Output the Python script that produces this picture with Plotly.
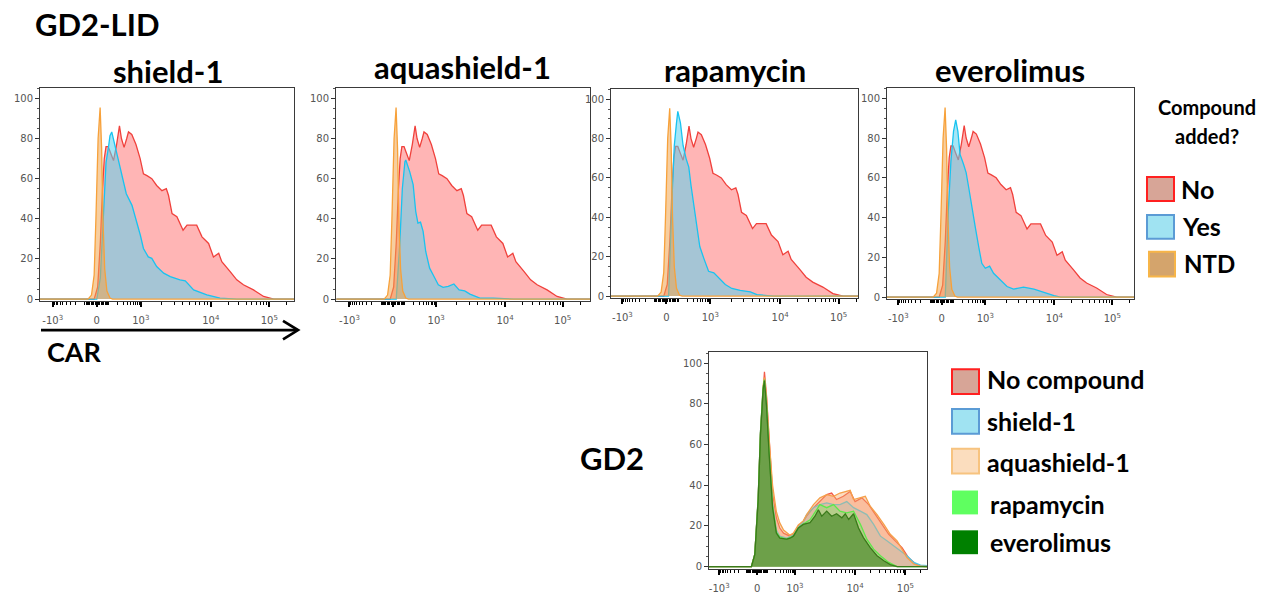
import math
import plotly.graph_objects as go

W, H = 1270, 596
FONT = "Lato, 'Open Sans', sans-serif"

# ---------------- data (x in display channel units: -1=-10^3, 0=0, 1=10^3, 2.59=10^4, 3.92=10^5) -------------
# CAR panels: "No compound" control (same sample in all four panels)
car_no_x = [-1.3, -0.06, 0.02, 0.08, 0.13, 0.17, 0.21, 0.26, 0.31, 0.38, 0.45, 0.515, 0.56, 0.62, 0.68, 0.72,
            0.795, 0.89, 0.985, 1.06, 1.14, 1.25, 1.36, 1.48, 1.58, 1.63, 1.71, 1.82, 1.96, 2.05, 2.27, 2.39,
            2.54, 2.65, 2.77, 2.84, 3.03, 3.18, 3.33, 3.56, 3.79, 4.02, 4.6]
car_no_y = [0, 0, 6, 28, 55, 70, 76, 76, 73, 69, 77, 86.3, 80, 75.6, 80, 83.3,
            82, 77, 70, 62.4, 61.5, 60, 56.6, 54, 55, 51.6, 42.6, 41, 34.3, 36.8, 36.8, 31,
            27.7, 21, 22.8, 18.6, 13.7, 9.6, 7.1, 4.6, 1.3, 0, 0]
# NTD (non-transduced) control
car_ntd_x = [-1.3, -0.2, -0.12, -0.06, -0.02, 0.03, 0.076, 0.11, 0.14, 0.18, 0.23, 0.3, 0.36, 4.6]
car_ntd_y = [0, 0, 2, 12, 40, 80, 95.4, 75, 40, 15, 4, 0.5, 0, 0]
# "Yes" (compound added) per panel
yes_shield_x = [-1.3, 0.0, 0.08, 0.15, 0.21, 0.27, 0.30, 0.34, 0.42, 0.53, 0.67, 0.80, 0.91, 0.99, 1.06, 1.17,
                1.25, 1.36, 1.52, 1.67, 1.89, 2.01, 2.2, 2.5, 2.8, 3.18, 4.6]
yes_shield_y = [0, 0, 10.4, 40, 68, 76.4, 81.4, 83.3, 76, 65, 52.5, 46.7, 38.4, 31.8, 25.2, 21,
                20.3, 16.2, 12.9, 11.2, 9.6, 9.1, 4.6, 2.1, 0.5, 0, 0]
yes_aqua_x = [-1.3, 0.08, 0.16, 0.22, 0.28, 0.30, 0.39, 0.47, 0.53, 0.58, 0.64, 0.70, 0.76, 0.85, 0.93, 1.05,
              1.16, 1.28, 1.41, 1.53, 1.66, 1.78, 2.01, 2.32, 2.78, 4.6]
yes_aqua_y = [0, 0, 27, 55, 68.5, 69.3, 63.5, 57, 43.6, 37.8, 38.3, 33.7, 23.7, 15.4, 12.1, 7.1,
              5.8, 6.3, 7.5, 4.6, 4.1, 2.5, 0.5, 0.5, 0, 0]
yes_rapa_x = [-1.3, 0.05, 0.13, 0.18, 0.23, 0.26, 0.32, 0.38, 0.45, 0.51, 0.56, 0.62, 0.70, 0.76, 0.85, 0.96,
              1.08, 1.19, 1.34, 1.49, 1.68, 1.91, 2.06, 2.44, 4.6]
yes_rapa_y = [0, 0, 51, 76.5, 88, 93.8, 88, 76.5, 69.7, 65.5, 56.3, 46.2, 32.8, 25.2, 19.3, 12.6,
              11.8, 9.2, 5.9, 3.9, 2.9, 2.2, 0.8, 0, 0]
yes_evero_x = [-1.3, 0.08, 0.15, 0.21, 0.27, 0.32, 0.37, 0.42, 0.50, 0.56, 0.62, 0.69, 0.77, 0.85, 0.92, 1.0,
               1.1, 1.19, 1.35, 1.5, 1.65, 1.88, 2.12, 2.35, 2.58, 2.73, 4.6]
yes_evero_y = [0, 0, 43.5, 68.4, 83.4, 89.2, 83.4, 71.8, 66.8, 62.6, 55, 45, 35.2, 25.2, 17, 14.5,
               15.6, 12, 8.6, 5.3, 4, 5, 4, 2.3, 0.7, 0, 0]

# GD2 panel
gd2_nocomp_x = [-1.3, -0.15, -0.06, 0.03, 0.09, 0.16, 0.195, 0.25, 0.32, 0.41, 0.51, 0.6, 0.7, 0.87, 0.96, 1.09,
                1.22, 1.31, 1.49, 1.66, 1.84, 1.97, 2.1, 2.28, 2.46, 2.59, 2.77, 2.95, 3.12, 3.3, 3.48, 3.65,
                3.83, 4.0, 4.19, 4.36, 4.6]
gd2_nocomp_y = [0, 0, 6, 34, 66, 90, 95.8, 84, 60, 36, 24, 19, 16.5, 15, 16, 20,
                22, 24.8, 29, 32, 35.4, 36.2, 33, 34.6, 37, 32, 33.8, 30.5, 25.6, 20.8, 15.9, 12.7,
                9.4, 4.5, 1.3, 0.2, 0]
gd2_shield_x = [-1.3, -0.15, -0.06, 0.03, 0.09, 0.16, 0.195, 0.25, 0.32, 0.41, 0.51, 0.6, 0.78, 0.96, 1.09,
                1.22, 1.31, 1.49, 1.66, 1.84, 2.02, 2.19, 2.37, 2.55, 2.73, 2.9, 3.08, 3.26, 3.43, 3.61,
                3.79, 3.96, 4.14, 4.32, 4.5, 4.6]
gd2_shield_y = [0, 0, 6, 34, 66, 88, 92, 80, 56, 31, 18, 15, 14, 15.5, 19.5,
                22, 25.6, 29, 30.5, 31.3, 30.5, 30.5, 32, 29, 27.3, 25.6, 20.8, 15, 12.7, 10.2,
                7.8, 5.4, 2.1, 0.8, 0.5, 0.3]
gd2_aqua_x = [-1.3, -0.15, -0.06, 0.03, 0.09, 0.16, 0.195, 0.25, 0.32, 0.41, 0.51, 0.6, 0.7, 0.87, 0.96, 1.09,
              1.22, 1.31, 1.49, 1.66, 1.84, 2.02, 2.19, 2.37, 2.46, 2.55, 2.73, 2.86, 2.99, 3.17, 3.35, 3.52,
              3.7, 3.83, 3.96, 4.14, 4.32, 4.6]
gd2_aqua_y = [0, 0, 6, 33, 65, 89, 93, 83, 62, 40, 27, 21.5, 18, 15.5, 16.5, 20.5,
              22.5, 25.6, 30.5, 33.8, 35.4, 34.6, 36.2, 37, 37.5, 33, 33.8, 34.6, 29.7, 25.6, 20.8, 15.9,
              12.7, 8.6, 4.5, 1.3, 0.2, 0]
gd2_rapa_x = [-1.3, -0.15, -0.06, 0.03, 0.09, 0.16, 0.195, 0.25, 0.32, 0.41, 0.51, 0.6, 0.78, 0.96, 1.09,
              1.22, 1.4, 1.53, 1.66, 1.84, 2.02, 2.19, 2.37, 2.55, 2.73, 2.9, 3.08, 3.26, 3.48, 3.7, 4.6]
gd2_rapa_y = [0, 0, 6, 34, 66, 88, 92, 80, 56, 30, 17, 14.5, 13.5, 15, 19,
              21, 23, 26.5, 30.5, 29, 30.5, 27.3, 26.5, 27.3, 20.8, 13.5, 8.6, 5.4, 2.1, 0, 0]
gd2_evero_x = [-1.3, -0.15, -0.06, 0.03, 0.09, 0.16, 0.195, 0.25, 0.32, 0.41, 0.51, 0.6, 0.78, 0.87, 0.96, 1.09,
               1.22, 1.4, 1.53, 1.62, 1.71, 1.84, 1.97, 2.1, 2.24, 2.33, 2.42, 2.55, 2.68, 2.81, 2.99, 3.17,
               3.35, 3.52, 3.7, 4.6]
gd2_evero_y = [0, 0, 6, 33, 65, 87, 91.5, 79, 55, 29, 16.5, 14, 13.5, 14, 15, 19,
               20.8, 21.6, 24.8, 28, 24.8, 27.3, 24.8, 26, 24, 26, 23.2, 26, 19, 14.3, 9.4, 5.4,
               2.9, 1, 0, 0]

# axis tick labels
x_tickvals = [-1, 0, 1, 2.59, 3.92]
x_ticktext = ["-10<sup>3</sup>", "0", "10<sup>3</sup>", "10<sup>4</sup>", "10<sup>5</sup>"]
y_tickvals = [0, 20, 40, 60, 80, 100]

panel_titles = ["shield-1", "aquashield-1", "rapamycin", "everolimus"]

# ---------------- styling ----------------
RED_L, RED_F = "#F0413C", "rgba(255,60,60,0.38)"
BLUE_L, BLUE_F = "#19C3F0", "rgba(91,210,239,0.55)"
ORG_L, ORG_F = "#F7A13A", "rgba(240,165,80,0.55)"


def asn(v):
    return math.asinh(v / 100.0) / math.asinh(10.0)


minor_x = []
for k in range(1, 10):
    minor_x += [asn(k * 10), asn(-k * 10)]
for k in range(2, 10):
    minor_x += [asn(k * 100), asn(-k * 100)]
for k in range(2, 10):
    minor_x.append(1 + 1.59 * math.log10(k))
    minor_x.append(2.59 + 1.33 * math.log10(k))
minor_x.append(3.92 + 1.33 * math.log10(2))

# panel boxes in pixels: (left, top, right, bottom), x-range
panels = [
    ((40, 88, 294, 303), (-1.29, 4.48)),
    ((336, 88, 590, 303), (-1.31, 4.55)),
    ((611, 89, 858, 300), (-1.26, 4.36)),
    ((887, 88, 1134, 301), (-1.26, 4.42)),
    ((709, 354, 927, 572), (-1.27, 4.49)),
]

fig = go.Figure()
layout = {}
for i, ((l, t, r, b), xr) in enumerate(panels):
    n = "" if i == 0 else str(i + 1)
    layout["xaxis" + n] = dict(
        domain=[l / W, r / W], anchor="y" + n, range=list(xr),
        tickmode="array", tickvals=x_tickvals, ticktext=x_ticktext,
        ticks="outside", ticklen=5, tickwidth=1.6, tickcolor="black",
        showline=True, linecolor="#3a3a3a", linewidth=1, mirror=True,
        showgrid=False, zeroline=False, ticklabelstandoff=5,
        tickfont=dict(family="DejaVu Sans", size=10, color="#555"),
        minor=dict(tickmode="array", tickvals=minor_x, ticks="outside", ticklen=3,
                   tickwidth=1, tickcolor="black", showgrid=False),
    )
    layout["yaxis" + n] = dict(
        domain=[1 - b / H, 1 - t / H], anchor="x" + n, range=[-1.2, 105.4],
        tickmode="array", tickvals=y_tickvals,
        ticks="outside", ticklen=4, tickwidth=1, tickcolor="#333",
        showline=True, linecolor="#3a3a3a", linewidth=1, mirror=True,
        showgrid=False, zeroline=False,
        tickfont=dict(family="DejaVu Sans", size=10, color="#555"),
        minor=dict(tickmode="linear", tick0=0, dtick=5, ticks="outside", ticklen=2,
                   tickwidth=1, tickcolor="#555", showgrid=False),
    )


def add(x, y, line, fill, i, width=1.3):
    n = "" if i == 0 else str(i + 1)
    fig.add_trace(go.Scatter(x=x, y=y, mode="lines", fill="tozeroy", fillcolor=fill,
                             line=dict(color=line, width=width),
                             xaxis="x" + n, yaxis="y" + n, showlegend=False, hoverinfo="skip"))


yes_sets = [(yes_shield_x, yes_shield_y), (yes_aqua_x, yes_aqua_y),
            (yes_rapa_x, yes_rapa_y), (yes_evero_x, yes_evero_y)]
for i in range(4):
    add(car_no_x, car_no_y, RED_L, RED_F, i)
    add(yes_sets[i][0], yes_sets[i][1], BLUE_L, BLUE_F, i)
    add(car_ntd_x, car_ntd_y, ORG_L, ORG_F, i)

add(gd2_nocomp_x, gd2_nocomp_y, "#F25A4A", "rgba(250,110,90,0.35)", 4)
add(gd2_shield_x, gd2_shield_y, "#4CC8E8", "rgba(100,200,235,0.30)", 4)
add(gd2_aqua_x, gd2_aqua_y, "#F5A04A", "rgba(245,170,100,0.40)", 4)
add(gd2_rapa_x, gd2_rapa_y, "#5EE84A", "rgba(110,235,90,0.35)", 4)
add(gd2_evero_x, gd2_evero_y, "#3A7A1A", "rgba(60,130,30,0.60)", 4)


def px(x):
    return x / W


def py(y):
    return 1 - y / H


anns = []


def ann(text, x, y, size, xanchor="center"):
    anns.append(dict(text="<b>%s</b>" % text, x=px(x), y=py(y), xref="paper", yref="paper",
                     showarrow=False, xanchor=xanchor, yanchor="middle",
                     font=dict(family=FONT, size=size, color="black")))


ann("GD2-LID", 33, 24, 31, "left")
title_pos = [(168, 71), (462, 67), (735, 70), (1010, 70)]
for t, (x, y) in zip(panel_titles, title_pos):
    ann(t, x, y, 31)
ann("Compound", 1207, 108, 20)
ann("added?", 1207, 137, 20)
ann("No", 1179, 190, 25, "left")
ann("Yes", 1180, 227, 25, "left")
ann("NTD", 1182, 265, 24, "left")
ann("CAR", 45, 353, 27, "left")
ann("GD2", 578, 460, 31, "left")
leg2 = [("No compound", 985, 381), ("shield-1", 985, 423), ("aquashield-1", 985, 464),
        ("rapamycin", 988, 507), ("everolimus", 988, 545)]
for t, x, y in leg2:
    ann(t, x, y, 25, "left")

shapes = []


def rect(x0, y0, x1, y1, fill, line=None, lw=2):
    shapes.append(dict(type="rect", xref="paper", yref="paper", x0=px(x0), x1=px(x1), y0=py(y1), y1=py(y0),
                       fillcolor=fill, line=dict(color=line if line else fill, width=lw if line else 0)))


rect(1147, 178, 1174, 202, "#D7A597", "#FF2020")
rect(1147, 216, 1174, 240, "#A0E3F2", "#5B9BD5")
rect(1149, 253, 1175, 278, "#D4A46C", "#F7B548")
rect(952, 371, 979, 396, "#D7A597", "#FF2020")
rect(952, 411, 979, 436, "#A0E3F2", "#5B9BD5")
rect(952, 451, 979, 476, "#FBDDBE", "#F7C37F")
rect(952, 493, 978, 517, "#5FFF60")
rect(952, 533, 978, 557, "#008000")

# CAR arrow
shapes.append(dict(type="line", xref="paper", yref="paper", x0=px(41), x1=px(297), y0=py(331.7), y1=py(331.7),
                   line=dict(color="black", width=2.7)))
shapes.append(dict(type="path", xref="paper", yref="paper",
                   path="M %f %f L %f %f L %f %f" % (px(283), py(322.5), px(298), py(331.7), px(283), py(341)),
                   line=dict(color="black", width=2.7)))

fig.update_layout(width=W, height=H, margin=dict(l=0, r=0, t=0, b=0), plot_bgcolor="white",
                  paper_bgcolor="white", annotations=anns, shapes=shapes, **layout)
fig.write_html("out.html")
